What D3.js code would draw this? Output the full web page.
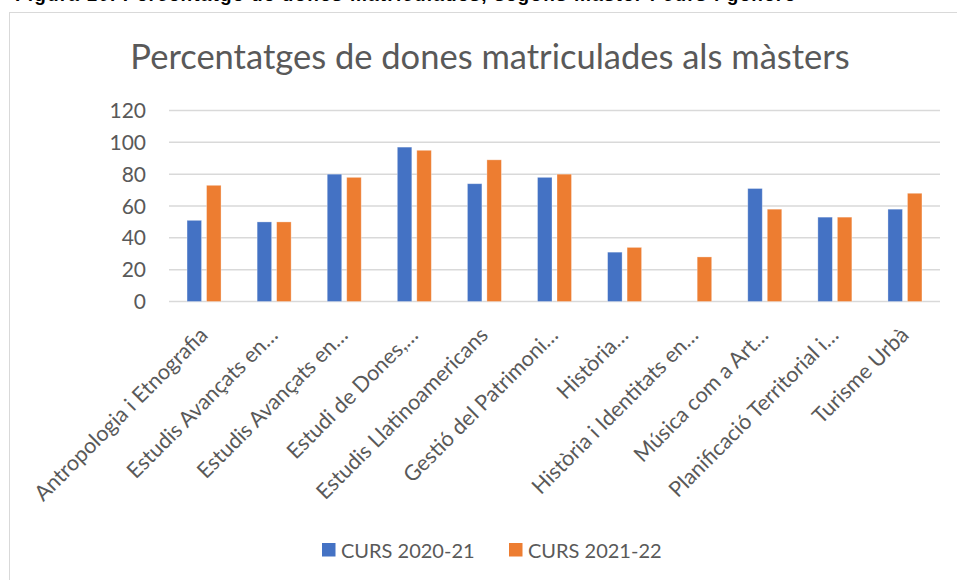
<!DOCTYPE html>
<html>
<head>
<meta charset="utf-8">
<script src="https://cdn.jsdelivr.net/npm/d3@7"></script>
<style>
  body { margin: 0; background: #fff; }
  svg { display: block; font-family: Lato, "Open Sans", sans-serif; }
</style>
</head>
<body>
<svg id="chart" width="957" height="580"></svg>
<script>
// categories (as shown, truncated by the chart tool)
const masters = [
  'Antropologia i Etnografia',
  'Estudis Avançats en…',
  'Estudis Avançats en…',
  'Estudi de Dones,…',
  'Estudis Llatinoamericans',
  'Gestió del Patrimoni…',
  'Història…',
  'Història i Identitats en…',
  'Música com a Art…',
  'Planificació Territorial i…',
  'Turisme Urbà'
];
const curs2021 = [51, 50, 80, 97, 74, 78, 31, 0, 71, 53, 58];
const curs2122 = [73, 50, 78, 95, 89, 80, 34, 28, 58, 53, 68];
const seriesNames = ['CURS 2020-21', 'CURS 2021-22'];
const yTicks = [0, 20, 40, 60, 80, 100, 120];

const colors = ['#4472c4', '#ed7d31'];
const svg = d3.select('#chart');
const plotLeft = 169, plotRight = 940, plotTop = 110.5, plotBottom = 301.5;

// caption above the chart box (cut off at the top of the picture)
svg.append('text')
  .attr('x', 15).attr('y', 1)
  .attr('textLength', 780)
  .style('font-family', 'Liberation Sans, Arial, sans-serif')
  .style('font-weight', 'bold')
  .style('font-size', '19px')
  .attr('fill', '#000')
  .text('Figura 10. Percentatge de dones matriculades, segons màster i curs i gènere');

// chart box
svg.append('rect')
  .attr('x', 9.5).attr('y', 12.5)
  .attr('width', 960).attr('height', 600)
  .attr('fill', '#fff')
  .attr('stroke', '#d9d9d9');

svg.append('text')
  .attr('x', 490).attr('y', 69)
  .attr('text-anchor', 'middle')
  .attr('fill', '#595959')
  .style('font-size', '34.5px')
  .text('Percentatges de dones matriculades als màsters');

const x = d3.scaleBand()
  .domain(d3.range(masters.length))
  .range([plotLeft, plotRight]);

const y = d3.scaleLinear()
  .domain([0, 120])
  .range([plotBottom, plotTop]);

// grid
svg.append('g')
  .selectAll('line')
  .data(yTicks)
  .join('line')
  .attr('x1', plotLeft).attr('x2', plotRight)
  .attr('y1', d => y(d)).attr('y2', d => y(d))
  .attr('stroke', '#d9d9d9')
  .attr('stroke-width', 1.5);

// y axis labels
svg.append('g')
  .selectAll('text')
  .data(yTicks)
  .join('text')
  .attr('x', 146)
  .attr('y', d => y(d) + 7.5)
  .attr('text-anchor', 'end')
  .attr('fill', '#595959')
  .style('font-size', '21px')
  .text(d => d);

// bars
const barW = 14.5, gap = 5;
[curs2021, curs2122].forEach((vals, s) => {
  svg.append('g')
    .selectAll('rect')
    .data(vals)
    .join('rect')
    .attr('x', (d, i) => x(i) + x.bandwidth() / 2 + (s === 0 ? -gap / 2 - barW : gap / 2))
    .attr('y', d => y(d))
    .attr('width', barW)
    .attr('height', d => y(0) - y(d))
    .attr('fill', colors[s])
    .attr('stroke', d => d > 0 ? '#fff' : 'none')
    .attr('stroke-opacity', 0.4)
    .attr('stroke-width', 0.8);
});

// category labels
svg.append('g')
  .selectAll('text')
  .data(masters)
  .join('text')
  .attr('text-anchor', 'end')
  .attr('transform', (d, i) => `translate(${x(i) + x.bandwidth() / 2 + 5},${plotBottom + 35}) rotate(-45)`)
  .attr('fill', '#595959')
  .style('font-size', '21.5px')
  .text(d => d);

// legend
const legend = svg.append('g');
const legendX = [322, 509];
seriesNames.forEach((name, s) => {
  legend.append('rect')
    .attr('x', legendX[s]).attr('y', 543)
    .attr('width', 13.5).attr('height', 13.5)
    .attr('fill', colors[s]);
  legend.append('text')
    .attr('x', legendX[s] + 19).attr('y', 557.5)
    .attr('fill', '#595959')
    .style('font-size', '20px')
    .text(name);
});
</script>
</body>
</html>
